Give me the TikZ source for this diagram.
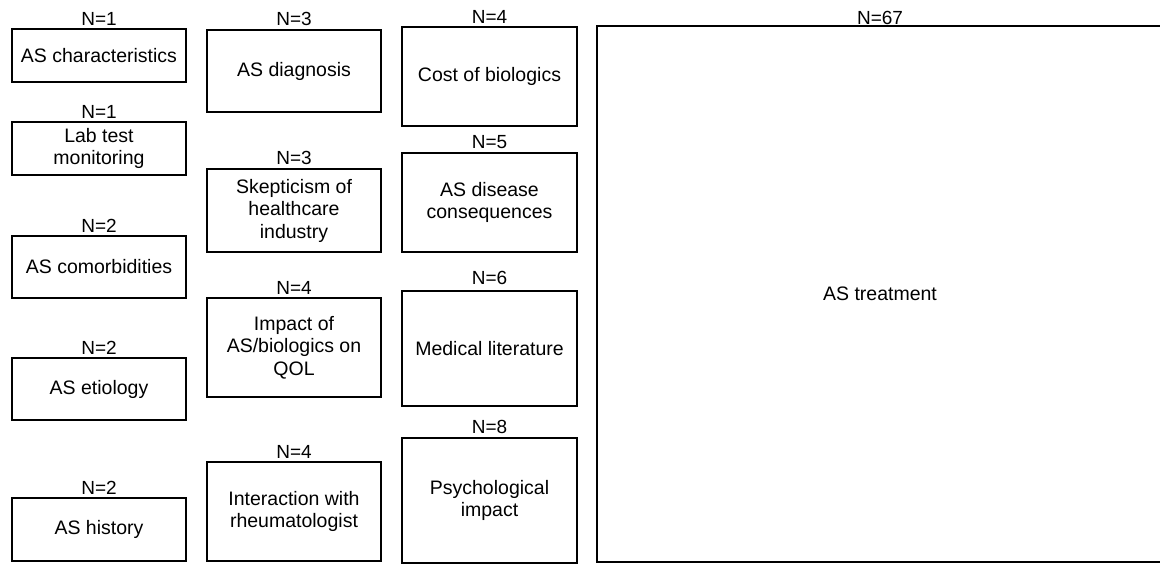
\documentclass[tikz,border=0pt]{standalone}
\usepackage{fontspec}
\setmainfont{Liberation Sans}
\usepackage{tikz}
\usetikzlibrary{positioning}
\tikzset{
  theme/.style={draw, rectangle, line width=1.3pt, align=center, inner sep=2pt, font=\fontsize{19.5}{22.5}\selectfont},
  narrowtheme/.style={theme, minimum width=174pt},
  count/.style={font=\fontsize{19}{22}\selectfont, inner sep=2pt, label distance=1pt}
}

\begin{document}
\begin{tikzpicture}[x=1pt,y=-1pt]
  \useasboundingbox (0,0) rectangle (1160,564);
  % first column
  \node[narrowtheme,minimum height=53pt,label={[count]above:N=1}] (charact) at (99,55.5) {AS characteristics};
  \node[narrowtheme,minimum height=53pt,label={[count]above:N=1}] (labtest) at (99,148.5) {Lab test\\monitoring};
  \node[narrowtheme,minimum height=62pt,label={[count]above:N=2}] (comorb) at (99,267) {AS comorbidities};
  \node[narrowtheme,minimum height=62pt,label={[count]above:N=2}] (etiol) at (99,389) {AS etiology};
  \node[narrowtheme,minimum height=63pt,label={[count]above:N=2}] (history) at (99,529.5) {AS history};
  % second column
  \node[narrowtheme,minimum height=82pt,label={[count]above:N=3}] (diagn) at (294,71) {AS diagnosis};
  \node[narrowtheme,minimum height=83pt,label={[count]above:N=3}] (skept) at (294,210.5) {Skepticism of\\healthcare\\industry};
  \node[narrowtheme,minimum height=99pt,label={[count]above:N=4}] (qol) at (294,347.5) {Impact of\\AS/biologics on\\QOL};
  \node[narrowtheme,minimum height=99pt,label={[count]above:N=4}] (rheum) at (294,511.5) {Interaction with\\rheumatologist};
  % third column
  \node[narrowtheme,minimum width=175pt,minimum height=99pt,label={[count]above:N=4}] (cost) at (489.5,76.5) {Cost of biologics};
  \node[narrowtheme,minimum width=175pt,minimum height=99pt,label={[count]above:N=5}] (conseq) at (489.5,202.5) {AS disease\\consequences};
  \node[narrowtheme,minimum width=175pt,minimum height=115pt,label={[count,label distance=3pt]above:N=6}] (medlit) at (489.5,348.5) {Medical literature};
  \node[narrowtheme,minimum width=175pt,minimum height=125pt,label={[count]above:N=8}] (psych) at (489.5,500.5) {Psychological\\impact};
  % treatment
  \node[theme,minimum width=566pt,minimum height=536pt,label={[count,label distance=-1.5pt]above:N=67}] (treat) at (880,294) {AS treatment};
\end{tikzpicture}
\end{document}
